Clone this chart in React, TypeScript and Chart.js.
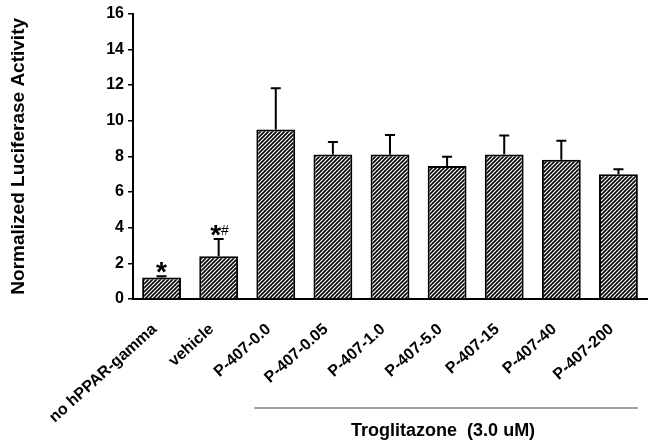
import React, { useEffect, useRef } from "react";
import { Chart, registerables } from "chart.js";

Chart.register(...registerables);

const categories = [
  "no hPPAR-gamma",
  "vehicle",
  "P-407-0.0",
  "P-407-0.05",
  "P-407-1.0",
  "P-407-5.0",
  "P-407-15",
  "P-407-40",
  "P-407-200",
];
const means = [1.2, 2.4, 9.5, 8.1, 8.1, 7.45, 8.1, 7.8, 7.0];
const errors = [0.07, 0.97, 2.32, 0.7, 1.1, 0.52, 1.06, 1.07, 0.28];
const starMarks = ["*", "*", "", "", "", "", "", "", ""];
const hashMarks = ["", "#", "", "", "", "", "", "", ""];
const yMin = 0;
const yMax = 16;
const yLabelStep = 2;
const yTitle = "Normalized Luciferase Activity";
const groupLabel = "Troglitazone  (3.0 uM)";
const groupStart = 2;
const groupEnd = 8;

const FONT = "Arial, 'Liberation Sans', sans-serif";

function makeHatch(): CanvasPattern | string {
  const c = document.createElement("canvas");
  c.width = 4;
  c.height = 4;
  const g = c.getContext("2d");
  if (!g) return "#888";
  g.fillStyle = "#fff";
  g.fillRect(0, 0, 4, 4);
  g.strokeStyle = "#000";
  g.lineWidth = 1.6;
  g.beginPath();
  g.moveTo(0, 4);
  g.lineTo(4, 0);
  g.moveTo(-1, 1);
  g.lineTo(1, -1);
  g.moveTo(3, 5);
  g.lineTo(5, 3);
  g.stroke();
  const p = g.createPattern(c, "repeat");
  return p || "#888";
}

const overlayPlugin = {
  id: "overlay",
  afterDatasetsDraw(chart: any) {
    const ctx = chart.ctx;
    const meta = chart.getDatasetMeta(0);
    const ys = chart.scales.y;
    const area = chart.chartArea;
    ctx.save();
    // error bars (upper only)
    ctx.strokeStyle = "#000";
    ctx.lineWidth = 2;
    meta.data.forEach((el: any, i: number) => {
      const top = ys.getPixelForValue(means[i] + errors[i]);
      ctx.beginPath();
      ctx.moveTo(el.x, el.y);
      ctx.lineTo(el.x, top);
      ctx.moveTo(el.x - 5, top);
      ctx.lineTo(el.x + 5, top);
      ctx.stroke();
    });
    // significance marks
    ctx.fillStyle = "#000";
    ctx.textBaseline = "alphabetic";
    meta.data.forEach((el: any, i: number) => {
      const top = ys.getPixelForValue(means[i] + errors[i]);
      const star = starMarks[i];
      const hash = hashMarks[i];
      if (!star && !hash) return;
      ctx.font = `bold 28px ${FONT}`;
      const sw = ctx.measureText(star).width;
      ctx.font = `14px ${FONT}`;
      const hw = ctx.measureText(hash).width;
      const total = sw + hw;
      const x = hash ? el.x - sw / 2 - 3 : el.x - total / 2;
      ctx.font = `bold 28px ${FONT}`;
      ctx.textAlign = "left";
      ctx.fillText(star, x, top + 5);
      if (hash) {
        ctx.font = `14px ${FONT}`;
        ctx.fillText(hash, x + sw, top - 4);
      }
    });
    // group bracket
    const a = meta.data[groupStart];
    const b = meta.data[groupEnd];
    const lx = a.x - a.width / 2 - 2;
    const rx = b.x + b.width / 2;
    const ly = area.bottom + 109;
    ctx.strokeStyle = "#808080";
    ctx.lineWidth = 1.5;
    ctx.beginPath();
    ctx.moveTo(lx, ly);
    ctx.lineTo(rx, ly);
    ctx.stroke();
    ctx.fillStyle = "#000";
    ctx.font = `bold 18px ${FONT}`;
    ctx.textAlign = "center";
    ctx.textBaseline = "middle";
    ctx.fillText(groupLabel, (lx + rx) / 2 - 3, ly + 23);
    ctx.restore();
  },
};

export default function App() {
  const ref = useRef<HTMLCanvasElement | null>(null);
  useEffect(() => {
    if (!ref.current) return;
    const hatch = makeHatch();
    const chart = new Chart(ref.current, {
      type: "bar",
      data: {
        labels: categories,
        datasets: [
          {
            data: means,
            backgroundColor: hatch as any,
            borderColor: "#000",
            borderWidth: 2,
            borderSkipped: "bottom",
            barPercentage: 0.68,
            categoryPercentage: 1,
          },
        ],
      },
      options: {
        animation: false,
        responsive: true,
        maintainAspectRatio: false,
        layout: { padding: { top: 10, right: 8, left: 0, bottom: 0 } },
        plugins: {
          legend: { display: false },
          tooltip: { enabled: false },
        },
        scales: {
          x: {
            grid: { display: false, drawTicks: false },
            border: { display: true, color: "#000", width: 2 },
            ticks: {
              color: "#000",
              font: { family: FONT, size: 16, weight: "bold" },
              minRotation: 42,
              maxRotation: 42,
              autoSkip: false,
              padding: 21,
              labelOffset: -7,
            },
            afterFit(scale: any) {
              scale.height = 145;
            },
          },
          y: {
            min: yMin,
            max: yMax,
            grid: {
              drawOnChartArea: false,
              drawTicks: true,
              tickLength: 5,
              color: "#000",
              lineWidth: 1.5,
            },
            border: { display: true, color: "#000", width: 2 },
            ticks: {
              stepSize: 1,
              color: "#000",
              padding: 4,
              font: { family: FONT, size: 16, weight: "bold" },
              callback: (v: any) => (Number(v) % yLabelStep === 0 ? String(v) : ""),
            },
            title: {
              display: true,
              text: yTitle,
              color: "#000",
              font: { family: FONT, size: 19, weight: "bold" },
              padding: { top: 7, bottom: 0 },
            },
            afterFit(scale: any) {
              scale.width = 133;
            },
          },
        },
      },
      plugins: [overlayPlugin],
    });
    return () => chart.destroy();
  }, []);
  return (
    <div style={{ position: "fixed", left: 0, top: 0, width: 655, height: 444, background: "#fff" }}>
      <canvas ref={ref} />
    </div>
  );
}
